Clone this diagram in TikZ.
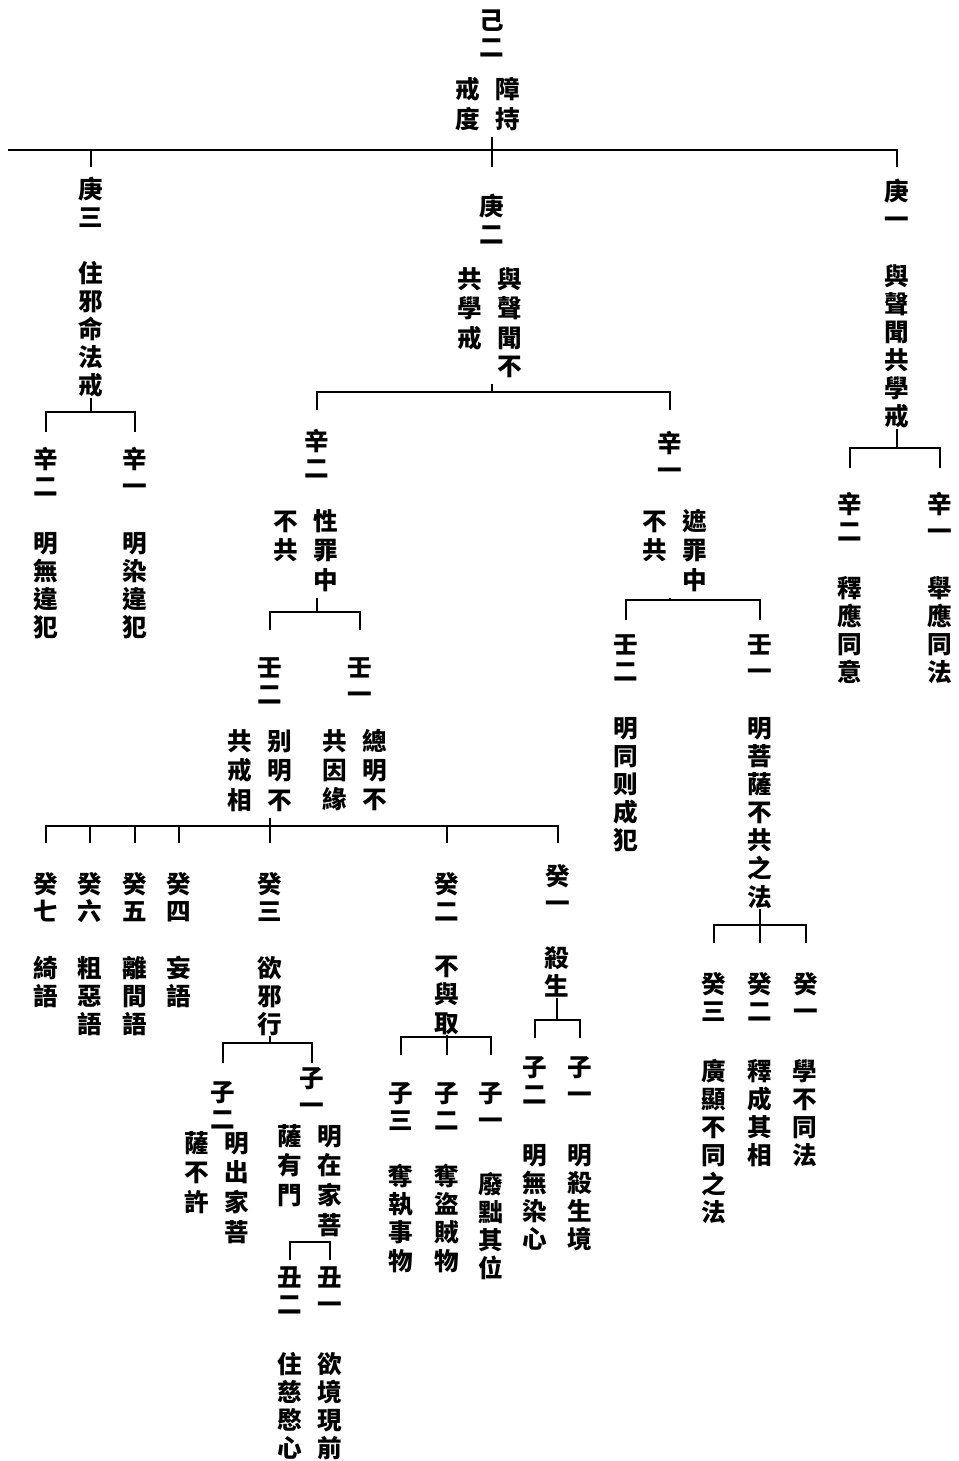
\documentclass[tikz,border=0pt]{standalone}
\usepackage{fontspec}
\newfontfamily\cjk{Noto Sans CJK TC}
\usepackage{tikz}

% two columns of vertical text, right column read first
\newcommand\twocol[1]{\begin{tabular}{@{}c@{\hspace{9pt}}c@{}}#1\end{tabular}}
% label, node giving the stem x, bar y, drop end y, children
\newcommand\fork[5]{%
  \coordinate (stem) at (#1.south -| #2);
  \draw[branch] (stem) -- (stem |- 0,#3);
  \foreach \kid in {#5}
    \draw[branch] (\kid |- 0,#4) |- (stem |- 0,#3);
}

\tikzset{
  idx/.style={anchor=north, inner sep=0pt, align=center,
    font=\cjk\bfseries\fontsize{14pt}{15.5pt}\selectfont},
  lbl/.style={anchor=north, inner sep=0pt, align=center,
    font=\cjk\bfseries\fontsize{14pt}{16pt}\selectfont},
  branch/.style={line width=1.2pt}
}

\begin{document}
\begin{tikzpicture}[x=0.02cm,y=-0.02cm]
\useasboundingbox (0,0) rectangle (959,1461);
% root
\node[idx] (j2) at (492,9) {己\\二};
\node[lbl] (rl) at (488,77) {\twocol{戒&障\\度&持}};
\coordinate (bar0) at (8,150);
%
\node[idx] (g3) at (91,177) {庚\\三};
\node[lbl] (g3l) at (91,261) {住\\邪\\命\\法\\戒};
\node[idx] (g2) at (492,194) {庚\\二};
\node[lbl] (g2l) at (490,267) {\twocol{共&與\\學&聲\\戒&聞\\&不}};
\node[idx] (g1) at (897,179) {庚\\一};
\node[lbl] (g1l) at (897,264) {與\\聲\\聞\\共\\學\\戒};
% under g3
\node[idx] (s32) at (46,447) {辛\\二};
\node[idx] (s31) at (135,447) {辛\\一};
\node[lbl] (s32l) at (46,532) {明\\無\\違\\犯};
\node[lbl] (s31l) at (135,532) {明\\染\\違\\犯};
% under g2
\node[idx] (s22) at (317,429) {辛\\二};
\node[idx] (s21) at (670,431) {辛\\一};
\node[lbl] (s22l) at (306,509) {\twocol{不&性\\共&罪\\&中}};
\node[lbl] (s21l) at (675,509) {\twocol{不&遮\\共&罪\\&中}};
\node[idx] (r2) at (270,657) {壬\\二};
\node[idx] (r1) at (360,657) {壬\\一};
\node[lbl] (r2l) at (260,729) {\twocol{共&别\\戒&明\\相&不}};
\node[lbl] (r1l) at (355,729) {\twocol{共&總\\因&明\\緣&不}};
% ten
\node[idx] (k7) at (46,872) {癸\\七};
\node[idx] (k6) at (90,872) {癸\\六};
\node[idx] (k5) at (135,872) {癸\\五};
\node[idx] (k4) at (179,872) {癸\\四};
\node[idx] (k3) at (270,872) {癸\\三};
\node[idx] (k2) at (447,872) {癸\\二};
\node[idx] (k1) at (558,864) {癸\\一};
\node[lbl] (k7l) at (46,956) {綺\\語};
\node[lbl] (k6l) at (90,956) {粗\\惡\\語};
\node[lbl] (k5l) at (135,956) {離\\間\\語};
\node[lbl] (k4l) at (179,956) {妄\\語};
\node[lbl] (k3l) at (270,956) {欲\\邪\\行};
\node[lbl] (k2l) at (447,956) {不\\與\\取};
\node[lbl] (k1l) at (557,946) {殺\\生};
% k3
\node[idx] (z2) at (223,1081) {子\\二};
\node[idx] (z1) at (312,1067) {子\\一};
\node[lbl] (z2l) at (217,1131) {\twocol{薩&明\\不&出\\許&家\\&菩}};
\node[lbl] (z1l) at (310,1124) {\twocol{薩&明\\有&在\\門&家\\&菩}};
\node[idx] (c2) at (290,1266) {丑\\二};
\node[idx] (c1) at (330,1266) {丑\\一};
\node[lbl] (c2l) at (290,1352) {住\\慈\\愍\\心};
\node[lbl] (c1l) at (330,1352) {欲\\境\\現\\前};
% k2
\node[idx] (y3) at (401,1082) {子\\三};
\node[idx] (y2) at (447,1082) {子\\二};
\node[idx] (y1) at (491,1082) {子\\一};
\node[lbl] (y3l) at (401,1164) {奪\\執\\事\\物};
\node[lbl] (y2l) at (447,1164) {奪\\盜\\賊\\物};
\node[lbl] (y1l) at (491,1172) {廢\\黜\\其\\位};
% k1
\node[idx] (w2) at (535,1056) {子\\二};
\node[idx] (w1) at (580,1056) {子\\一};
\node[lbl] (w2l) at (535,1144) {明\\無\\染\\心};
\node[lbl] (w1l) at (580,1144) {明\\殺\\生\\境};
% under s21
\node[idx] (q2) at (626,634) {壬\\二};
\node[idx] (q1) at (760,634) {壬\\一};
\node[lbl] (q2l) at (626,717) {明\\同\\则\\成\\犯};
\node[lbl] (q1l) at (760,717) {明\\菩\\薩\\不\\共\\之\\法};
\node[idx] (m3) at (714,972) {癸\\三};
\node[idx] (m2) at (760,972) {癸\\二};
\node[idx] (m1) at (806,972) {癸\\一};
\node[lbl] (m3l) at (714,1059) {廣\\顯\\不\\同\\之\\法};
\node[lbl] (m2l) at (760,1059) {釋\\成\\其\\相};
\node[lbl] (m1l) at (805,1059) {學\\不\\同\\法};
% under g1
\node[idx] (t2) at (850,492) {辛\\二};
\node[idx] (t1) at (940,492) {辛\\一};
\node[lbl] (t2l) at (850,576) {釋\\應\\同\\意};
\node[lbl] (t1l) at (940,576) {舉\\應\\同\\法};
%
\fork{rl}{j2}{150}{167}{g3,g2,g1}
\draw[branch] (bar0) -- (g3 |- bar0);
\fork{g3l}{g3l}{412}{432}{s32,s31}
\fork{g2l}{g2}{392}{410}{s22,s21}
\fork{g1l}{g1l}{448}{468}{t2,t1}
\fork{s22l}{s22}{612}{630}{r2,r1}
\fork{s21l}{s21}{600}{620}{q2,q1}
\fork{r2l}{r2}{826}{843}{k7,k6,k5,k4,k3,k2,k1}
\fork{k3l}{k3l}{1043}{1063}{z2,z1}
\fork{k2l}{k2l}{1037}{1055}{y3,y2,y1}
\fork{k1l}{k1l}{1020}{1038}{w2,w1}
\fork{z1l}{z1}{1242}{1260}{c2,c1}
\fork{q1l}{q1l}{925}{943}{m3,m2,m1}
\end{tikzpicture}
\end{document}
